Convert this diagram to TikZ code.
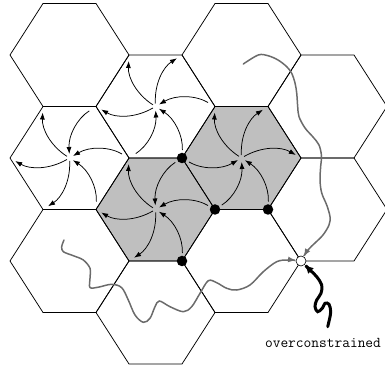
\documentclass[tikz,border=0pt]{standalone}
\usetikzlibrary{arrows.meta}
\begin{document}
\begin{tikzpicture}[x=1pt,y=1pt,
  hexedge/.style={line width=0.75pt, line join=miter},
  shadehex/.style={fill=black!25},
  outarr/.style={line width=0.75pt, -{Latex[length=7pt,width=5pt]}, shorten <=3pt, shorten >=6pt},
  inarr/.style={line width=0.75pt, -{Latex[length=7pt,width=5pt]}, shorten <=8pt, shorten >=4pt},
  pathg/.style={draw=black!58, line width=1.5pt, line cap=round, -{Latex[length=8pt,width=6pt]}, shorten >=5pt},
  squig/.style={draw=black, line width=3pt, line cap=round, -{Latex[length=9pt,width=8pt]}, shorten >=5pt},
  blackdot/.style={circle, fill=black, inner sep=0pt, minimum size=10.5pt},
  whitedot/.style={circle, draw=black, fill=white, line width=0.6pt, inner sep=0pt, minimum size=10pt},
  lbl/.style={font=\ttfamily\fontsize{15}{15}\selectfont}
]
\useasboundingbox (0,0) rectangle (385,366);
\clip (0,0) rectangle (385,366);
% hexagon centres and corners
\foreach \n/\x/\y in {a/69.5/311, b/69.5/208, c/69.5/105, d/155.5/259.5, e/155.5/156.5, f/155.5/53.5, g/241.5/311, h/241.5/208, i/241.5/105, j/327.5/259.5, k/327.5/156.5}{
  \coordinate (\n) at (\x,\y);
  \coordinate (\n-l) at ({\x-59.5},{\y});
  \coordinate (\n-r) at ({\x+59.5},{\y});
  \coordinate (\n-tl) at ({\x-26.5},{\y+51.5});
  \coordinate (\n-tr) at ({\x+26.5},{\y+51.5});
  \coordinate (\n-bl) at ({\x-26.5},{\y-51.5});
  \coordinate (\n-br) at ({\x+26.5},{\y-51.5});
}
% shaded hexagons
\foreach \n in {e,h}
  \fill[shadehex] (\n-l) -- (\n-tl) -- (\n-tr) -- (\n-r) -- (\n-br) -- (\n-bl) -- cycle;
% hexagon outlines
\foreach \n in {a,b,c,d,e,f,g,h,i,j,k}
  \draw[hexedge] (\n-l) -- (\n-tl) -- (\n-tr) -- (\n-r) -- (\n-br) -- (\n-bl) -- cycle;
% pinwheel arrows: centre -> corner
\foreach \h/\v in {d/tl,d/tr,d/l,b/tl,b/l,b/bl,e/tl,e/l,e/bl,h/tl,h/tr,h/r}
  \draw[outarr] (\h) to[bend left=30] (\h-\v);
% corner -> centre
\foreach \h/\v in {d/r,d/br,d/bl,b/tr,b/r,b/br,e/tr,e/r,e/br,h/l,h/bl,h/br}
  \draw[inarr] (\h-\v) to[bend right=30] (\h);
% target vertex
\coordinate (wv) at (i-r);
% grey paths
\draw[pathg] plot[smooth, tension=0.55] coordinates {(243.3,302) (258.3,311) (268,310.3) (278,306) (286.7,299.3) (291.7,292.7) (295,283) (296.7,273) (297.7,259.3) (299,249.3) (305,238) (313,229) (319,221) (321.5,210) (320.7,200) (320,186) (321.7,173) (326.7,161) (330,149.3) (329,141) (323,131) (315,123) (308,116) (wv)};
\draw[pathg] plot[smooth, tension=0.55] coordinates {(64,126) (61.7,119.3) (63.3,114.3) (73.3,110.3) (83.3,106) (90,97.7) (90,87.7) (90,78.5) (98.3,78.8) (111.7,81.7) (121.7,78.3) (128.3,66) (135,51) (143.3,43.7) (150,47.7) (155,59.3) (159.3,65) (170,59.3) (183.3,54.3) (191.7,59.3) (200,72.7) (208.3,85.3) (216.7,83.3) (226.7,77.7) (236.7,76) (250,81) (263.3,94.3) (276.7,104.3) (288,106) (wv)};
% black squiggle
\draw[squig] plot[smooth, tension=0.6] coordinates {(327.7,39.3) (329.3,46) (330.7,54.3) (329,61.7) (325,62.7) (322.3,57.7) (317.7,54.3) (315,59.3) (316.7,66) (321,72.7) (321.7,81) (316.7,89.3) (310,96) (wv)};
% dots
\node[blackdot] (p1) at (e-tr) {};
\node[blackdot] (p2) at (e-r) {};
\node[blackdot] (p3) at (h-br) {};
\node[blackdot] (p4) at (e-br) {};
\node[whitedot] (w) at (wv) {};
\node[lbl] (t) at (323,23) {overconstrained};
\end{tikzpicture}
\end{document}
